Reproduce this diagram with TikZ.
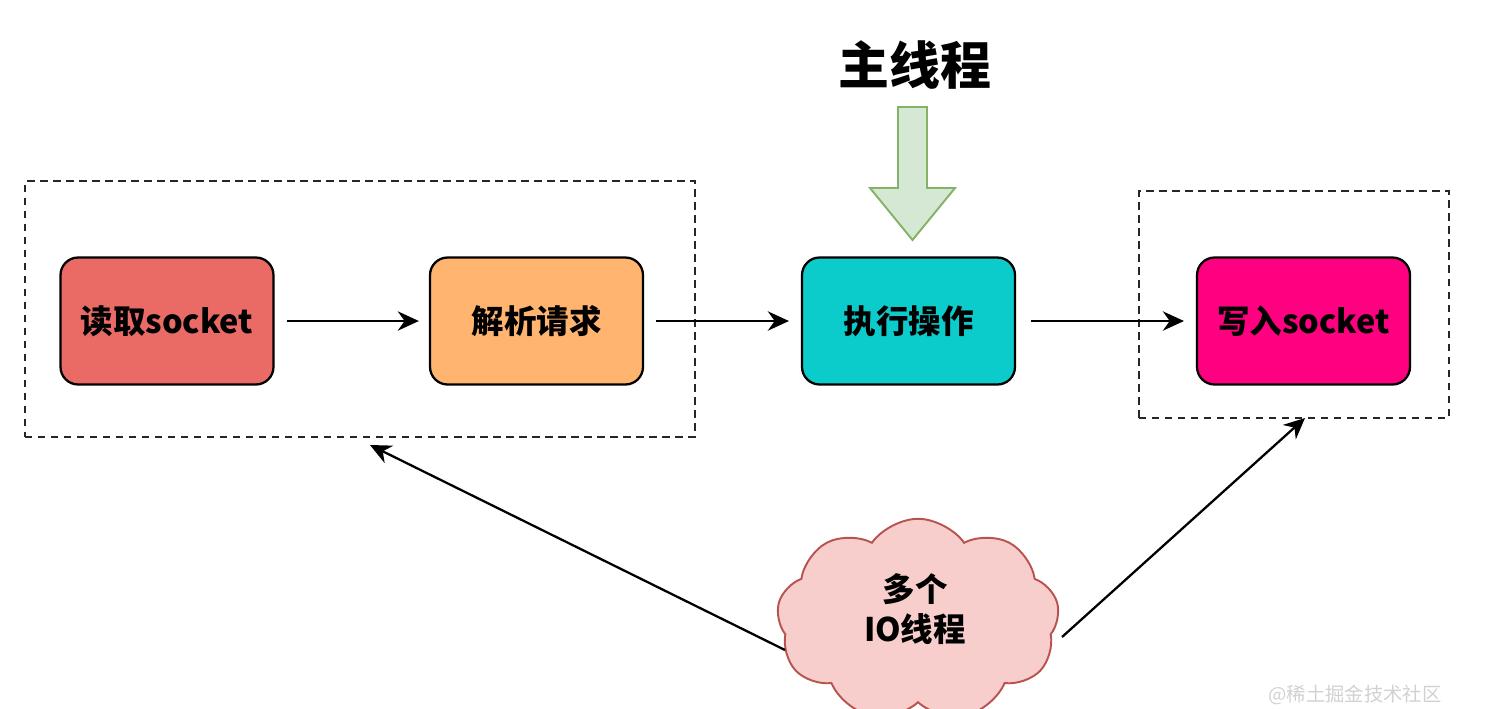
\documentclass[tikz,border=0pt]{standalone}
\usepackage{fontspec}
\setmainfont{Noto Sans CJK SC}
\usetikzlibrary{arrows.meta,shapes.symbols}
\definecolor{cred}{HTML}{EA6B66}
\definecolor{corange}{HTML}{FFB570}
\definecolor{cteal}{HTML}{0CCBCB}
\definecolor{cpink}{HTML}{FF0080}
\definecolor{cgreenf}{HTML}{D5E8D4}
\definecolor{cgreens}{HTML}{82B366}
\definecolor{ccloudf}{HTML}{F8CECC}
\definecolor{cclouds}{HTML}{B85450}
\tikzset{
  stepbox/.style={draw=black, line width=1.3pt, rounded corners=10pt,
    minimum width=4.26cm, minimum height=2.54cm, inner sep=0pt,
    font=\fontsize{18.5}{20}\selectfont\bfseries},
  groupbox/.style={draw=black!85, line width=1.3pt, dash pattern=on 4.2pt off 3.2pt, inner sep=0pt},
  flow/.style={line width=1.3pt, -{Stealth[length=12pt,width=11pt]}}
}
\begin{document}
\begin{tikzpicture}[x=0.02cm,y=-0.02cm]
\useasboundingbox (0,0) rectangle (1486,708);
% groups
\node[groupbox, minimum width=13.4cm, minimum height=5.12cm] (lgrp) at (360,309) {};
\node[groupbox, minimum width=6.2cm, minimum height=4.54cm] (rgrp) at (1294,304.5) {};
% steps
\node[stepbox, fill=cred] (b1) at (167,321) {读取socket};
\node[stepbox, fill=corange] (b2) at (536.5,321) {解析请求};
\node[stepbox, fill=cteal] (b3) at (908.5,321) {执行操作};
\node[stepbox, fill=cpink] (b4) at (1303.5,321) {写入socket};
\draw[flow, shorten <=6.8pt, shorten >=5.7pt] (b1) -- (b2);
\draw[flow, shorten <=6.8pt, shorten >=6.8pt] (b2) -- (b3);
\draw[flow, shorten <=8.5pt, shorten >=6.8pt] (b3) -- (b4);
% main thread
\node[font=\fontsize{29}{32}\selectfont\bfseries] (main) at (915,65) {主线程};
\draw[draw=cgreens, fill=cgreenf, line width=1.1pt]
  (898,107) -- (927,107) -- (927,188) -- (955,188) -- (912.5,240) -- (870,188) -- (898,188) -- cycle;
% cloud
\node[cloud, cloud puffs=9, cloud puff arc=110, aspect=1.5, draw=cclouds, fill=ccloudf,
  line width=1.1pt, minimum width=5.65cm, minimum height=4.05cm, inner sep=0pt] (cloud) at (918,620) {};
\node[align=center, font=\fontsize{18.5}{23}\selectfont\bfseries] (ctext) at (915,609) {多个\\IO线程};
\coordinate (cl) at (785,650);
\coordinate (cr) at (1062,637);
\coordinate (tl) at (370,445);
\coordinate (tr) at (1305,418);
\draw[flow] (cl) -- (tl);
\draw[flow] (cr) -- (tr);
% watermark
\node[text=black!18, font=\fontsize{11}{12}\selectfont, anchor=south, inner sep=1pt] (wm) at (1355,707) {@稀土掘金技术社区};
\end{tikzpicture}
\end{document}
